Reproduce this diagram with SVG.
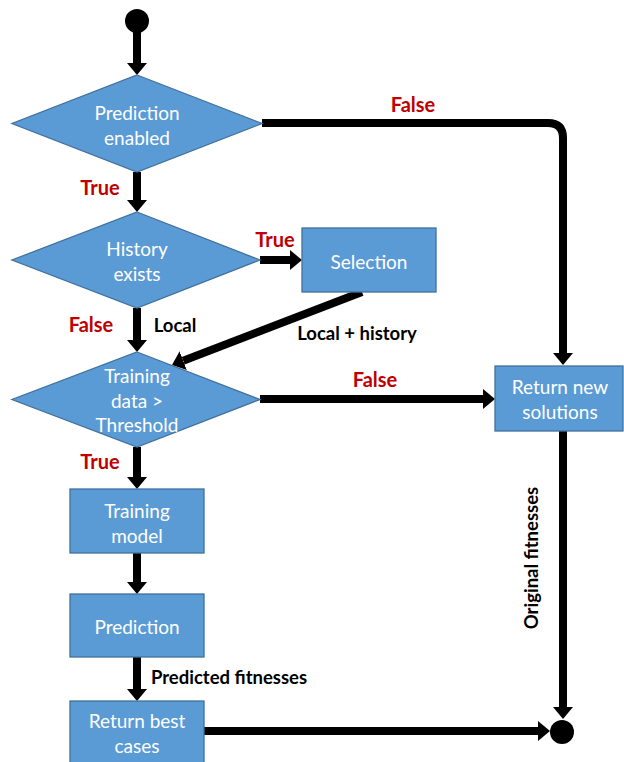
<svg xmlns="http://www.w3.org/2000/svg" width="624" height="762" viewBox="0 0 624 762">
<defs>
<marker id="ah" markerUnits="userSpaceOnUse" viewBox="0 0 12 20" markerWidth="12" markerHeight="20" refX="0" refY="10" orient="auto"><path d="M0,0 L12,10 L0,20 z" fill="#000"/></marker>
</defs>
<style>
.shape{fill:#5B9BD5;stroke:#41719C;stroke-width:1.3}
.nt{font-family:Lato,"Open Sans",sans-serif;font-size:19px;fill:#fff;text-anchor:middle;dominant-baseline:central}
.red{font-family:Lato,"Open Sans",sans-serif;font-size:20px;font-weight:bold;fill:#C00000;text-anchor:middle;dominant-baseline:central}
.blk{font-family:Lato,"Open Sans",sans-serif;font-size:18.5px;font-weight:bold;fill:#000;text-anchor:middle;dominant-baseline:central}
.c{fill:none;stroke:#000;stroke-width:8;marker-end:url(#ah)}
</style>
<rect width="624" height="762" fill="#fff"/>
<g id="connectors">
<path class="c" d="M137,30 V63"/>
<path class="c" d="M137,172 V200"/>
<path class="c" d="M262,123 H548 Q563,123 563,138 V353"/>
<path class="c" d="M260,260 H290"/>
<path class="c" d="M137,308 V340"/>
<path class="c" d="M362,292 L183.2,360.7"/>
<path class="c" d="M260,399 H483"/>
<path class="c" d="M137,447 V477"/>
<path class="c" d="M137,553 V582"/>
<path class="c" d="M137,657 V689"/>
<path class="c" d="M563,431 V707"/>
<path class="c" d="M204,731 H538"/>
</g>
<g id="start"><circle cx="137" cy="21" r="12" fill="#000"/></g>
<g id="end"><circle cx="562" cy="732" r="12" fill="#000"/></g>
<g id="prediction-enabled">
<polygon class="shape" points="137,75 262,123.5 137,172 12,123.5"/>
<text class="nt" x="137" y="112">Prediction</text>
<text class="nt" x="137" y="137">enabled</text>
</g>
<g id="history-exists">
<polygon class="shape" points="137,212 260,260 137,308 12,260"/>
<text class="nt" x="137" y="248">History</text>
<text class="nt" x="137" y="273">exists</text>
</g>
<g id="selection">
<rect class="shape" x="302" y="228" width="134" height="64"/>
<text class="nt" x="369" y="261">Selection</text>
</g>
<g id="training-data">
<polygon class="shape" points="137,352 260,399.5 137,447 12,399.5"/>
<text class="nt" x="137" y="375">Training</text>
<text class="nt" x="137" y="400">data &gt;</text>
<text class="nt" x="137" y="424">Threshold</text>
</g>
<g id="return-new">
<rect class="shape" x="495" y="366" width="128" height="65"/>
<text class="nt" x="560" y="386">Return new</text>
<text class="nt" x="560" y="411">solutions</text>
</g>
<g id="training-model">
<rect class="shape" x="70" y="489" width="134" height="64"/>
<text class="nt" x="137" y="510">Training</text>
<text class="nt" x="137" y="535">model</text>
</g>
<g id="prediction">
<rect class="shape" x="70" y="594" width="134" height="63"/>
<text class="nt" x="137" y="626">Prediction</text>
</g>
<g id="return-best">
<rect class="shape" x="70" y="701" width="134" height="70"/>
<text class="nt" x="137" y="720">Return best</text>
<text class="nt" x="137" y="745">cases</text>
</g>
<g id="labels">
<text class="red" x="413" y="104">False</text>
<text class="red" x="100" y="187">True</text>
<text class="red" x="275" y="239">True</text>
<text class="red" x="91" y="324">False</text>
<text class="blk" x="175" y="325">Local</text>
<text class="blk" x="357" y="333">Local + history</text>
<text class="red" x="375" y="379">False</text>
<text class="red" x="100" y="461">True</text>
<text class="blk" x="229" y="677">Predicted fitnesses</text>
<text class="blk" transform="translate(531,558) rotate(-90)" x="0" y="0">Original fitnesses</text>
</g>
</svg>
